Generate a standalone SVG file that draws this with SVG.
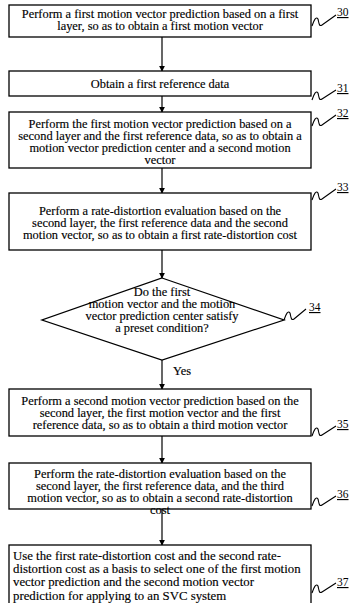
<svg xmlns="http://www.w3.org/2000/svg" width="352" height="603" viewBox="0 0 352 603">
  <defs>
    <marker id="arrow" viewBox="0 0 8 8" refX="7" refY="4" markerWidth="5" markerHeight="5" orient="auto">
      <path d="M0,0 L8,4 L0,8 Z" fill="#000"/>
    </marker>
  </defs>
  <style>
    .box { fill: #fff; stroke: #000; stroke-width: 1.3; }
    .t { font-family: "Liberation Serif", "Times New Roman", serif; font-size: 12.4px; fill: #000; stroke: #000; stroke-width: 0.15; text-anchor: middle; }
    .tl { font-family: "Liberation Serif", "Times New Roman", serif; font-size: 12.8px; fill: #000; stroke: #000; stroke-width: 0.15; text-anchor: start; }
    .ref { font-family: "Liberation Serif", "Times New Roman", serif; font-size: 11.5px; fill: #000; text-decoration: underline; }
    .sq { fill: none; stroke: #000; stroke-width: 1.1; }
    .conn { stroke: #000; stroke-width: 1.2; fill: none; marker-end: url(#arrow); }
  </style>
  <rect width="352" height="603" fill="#fff"/>

  <!-- connectors -->
  <g id="connectors">
    <line class="conn" x1="162" y1="37" x2="162" y2="71"/>
    <line class="conn" x1="162" y1="96" x2="162" y2="112"/>
    <line class="conn" x1="162" y1="168" x2="162" y2="193"/>
    <line class="conn" x1="162" y1="250" x2="162" y2="278"/>
    <line class="conn" x1="162" y1="360" x2="162" y2="389"/>
    <text class="tl" x="173" y="375" style="font-size:12.4px">Yes</text>
    <line class="conn" x1="162" y1="436" x2="162" y2="463"/>
    <line class="conn" x1="162" y1="509" x2="162" y2="545"/>
  </g>

  <g id="n30">
    <rect class="box" x="9" y="5" width="302" height="32"/>
    <text class="t" x="160" y="18">Perform a first motion vector prediction based on a first</text>
    <text class="t" x="160" y="30">layer, so as to obtain a first motion vector</text>
    <path class="sq" d="M312,26 C314,20 316,16 318,19 C319,23 319,27 322,25 L336,15"/>
    <text class="ref" x="337" y="16">30</text>
  </g>

  <g id="n31">
    <rect class="box" x="9" y="71" width="302" height="25"/>
    <text class="t" x="160" y="88">Obtain a first reference data</text>
    <path class="sq" d="M312,100 C314,94 316,90 318,93 C319,97 319,101 322,99 L336,90"/>
    <text class="ref" x="337" y="92">31</text>
  </g>

  <g id="n32">
    <rect class="box" x="9" y="112" width="302" height="56"/>
    <text class="t" x="160" y="128">Perform the first motion vector prediction based on a</text>
    <text class="t" x="160" y="140">second layer and the first reference data, so as to obtain a</text>
    <text class="t" x="160" y="152">motion vector prediction center and a second motion</text>
    <text class="t" x="160" y="164">vector</text>
    <path class="sq" d="M312,126 C314,120 316,116 318,119 C319,123 319,127 322,125 L336,115"/>
    <text class="ref" x="337" y="117">32</text>
  </g>

  <g id="n33">
    <rect class="box" x="9" y="193" width="302" height="57"/>
    <text class="t" x="160" y="215">Perform a rate-distortion evaluation based on the</text>
    <text class="t" x="160" y="227">second layer, the first reference data and the second</text>
    <text class="t" x="160" y="239">motion vector, so as to obtain a first rate-distortion cost</text>
    <path class="sq" d="M312,200 C314,194 316,190 318,193 C319,197 319,201 322,199 L336,189"/>
    <text class="ref" x="337" y="191">33</text>
  </g>

  <g id="n34">
    <polygon class="box" points="162,278 284,320 162,360 42,320"/>
    <text class="t" x="162" y="296">Do the first</text>
    <text class="t" x="162" y="308">motion vector and the motion</text>
    <text class="t" x="162" y="320">vector prediction center satisfy</text>
    <text class="t" x="162" y="332">a preset condition?</text>
    <path class="sq" d="M284,320 C286,314 288,310 290,313 C291,317 291,321 294,319 L306,309"/>
    <text class="ref" x="309" y="311">34</text>
  </g>

  <g id="n35">
    <rect class="box" x="9" y="389" width="302" height="47"/>
    <text class="t" x="160" y="405">Perform a second motion vector prediction based on the</text>
    <text class="t" x="160" y="417">second layer, the first motion vector and the first</text>
    <text class="t" x="160" y="429">reference data, so as to obtain a third motion vector</text>
    <path class="sq" d="M312,436 C314,430 316,426 318,429 C319,433 319,437 322,435 L336,426"/>
    <text class="ref" x="337" y="428">35</text>
  </g>

  <g id="n36">
    <rect class="box" x="9" y="463" width="302" height="46"/>
    <text class="t" x="160" y="478">Perform the rate-distortion evaluation based on the</text>
    <text class="t" x="160" y="490">second layer, the first reference data, and the third</text>
    <text class="t" x="160" y="502">motion vector, so as to obtain a second rate-distortion</text>
    <text class="t" x="160" y="514">cost</text>
    <path class="sq" d="M312,506 C314,500 316,496 318,499 C319,503 319,507 322,505 L336,496"/>
    <text class="ref" x="337" y="498">36</text>
  </g>

  <g id="n37">
    <rect class="box" x="9" y="545" width="302" height="70"/>
    <text class="tl" x="13" y="560">Use the first rate-distortion cost and the second rate-</text>
    <text class="tl" x="13" y="573">distortion cost as a basis to select one of the first motion</text>
    <text class="tl" x="13" y="586">vector prediction and the second motion vector</text>
    <text class="tl" x="13" y="600">prediction for applying to an SVC system</text>
    <path class="sq" d="M312,593 C314,587 316,583 318,586 C319,590 319,594 322,592 L336,583"/>
    <text class="ref" x="337" y="586">37</text>
  </g>
</svg>
